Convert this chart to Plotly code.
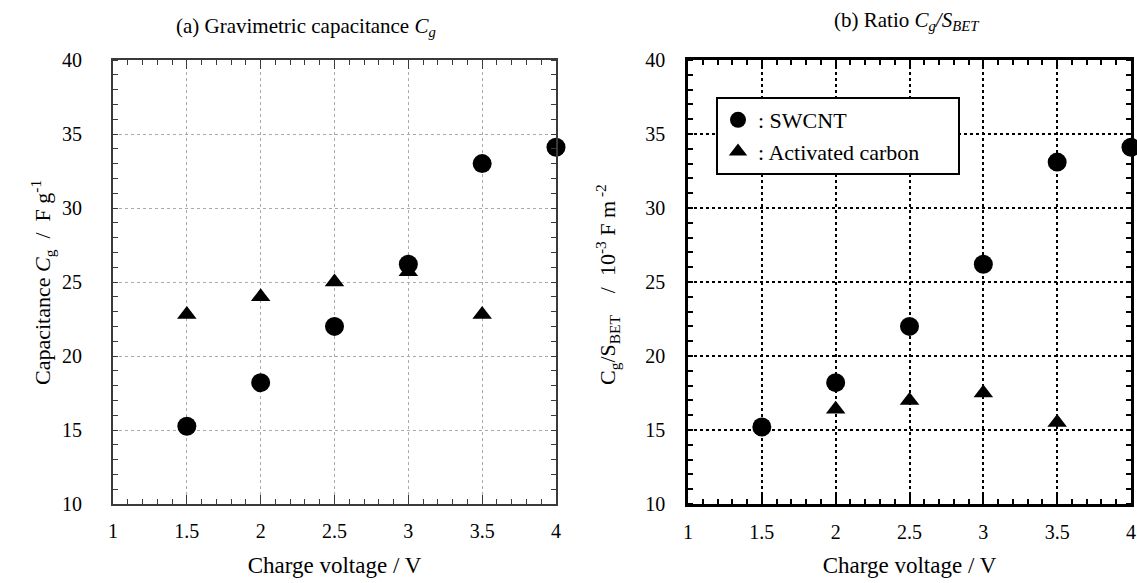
import plotly.graph_objects as go

voltage = [1.5, 2.0, 2.5, 3.0, 3.5, 4.0]
cg_swcnt = [15.25, 18.2, 22.0, 26.2, 33.0, 34.1]
cg_ac_v = [1.5, 2.0, 2.5, 3.0, 3.5]
cg_ac = [22.8, 24.0, 25.0, 25.7, 22.8]

ratio_swcnt = [15.2, 18.2, 22.0, 26.2, 33.1, 34.1]
ratio_ac_v = [2.0, 2.5, 3.0, 3.5]
ratio_ac = [16.4, 17.0, 17.5, 15.5]

FONT = "Liberation Serif, Times New Roman, Tinos, serif"
NB = "\u00a0"
fig = go.Figure()

fig.add_trace(go.Scatter(x=voltage, y=cg_swcnt, mode="markers", xaxis="x", yaxis="y",
                         marker=dict(symbol="circle", size=19, color="black"), showlegend=False, cliponaxis=False))
fig.add_trace(go.Scatter(x=cg_ac_v, y=cg_ac, mode="markers", xaxis="x", yaxis="y",
                         marker=dict(symbol="triangle-up", size=17, color="black"), showlegend=False, cliponaxis=False))
fig.add_trace(go.Scatter(x=voltage, y=ratio_swcnt, mode="markers", xaxis="x2", yaxis="y2", name=": SWCNT",
                         marker=dict(symbol="circle", size=19, color="black"), cliponaxis=False))
fig.add_trace(go.Scatter(x=ratio_ac_v, y=ratio_ac, mode="markers", xaxis="x2", yaxis="y2",
                         name=": Activated carbon" + NB * 6,
                         marker=dict(symbol="triangle-up", size=17, color="black"), cliponaxis=False))

W, H = 1137, 583
ydom = [1 - 504 / H, 1 - 60 / H]
CLEAR = "rgba(0,0,0,0)"


def xax(domain, anchor, linecolor, lw, tw, gridcolor, gw):
    return dict(domain=domain, anchor=anchor, range=[1, 4], dtick=0.5, tick0=1,
                ticks="inside", ticklen=9, tickcolor=linecolor, tickwidth=tw,
                showline=True, linecolor=linecolor, linewidth=lw, mirror="allticks",
                showgrid=True, gridcolor=gridcolor, griddash="dot", gridwidth=gw,
                zeroline=False, tickfont=dict(family=FONT, size=20, color="black"),
                ticklabelstandoff=8,
                minor=dict(dtick=0.1, ticks="inside", ticklen=5, tickcolor=linecolor, tickwidth=tw, showgrid=False),
                title=dict(text="Charge voltage / V", font=dict(family=FONT, size=23, color="black"), standoff=16))


def yax(anchor, linecolor, lw, tw, gridcolor, gw, labgap):
    # labelled axis: transparent outside ticks push the labels away from the frame
    return dict(domain=ydom, anchor=anchor, range=[10, 40], dtick=5,
                ticks="outside", ticklen=labgap, tickcolor=CLEAR, tickwidth=tw,
                showline=True, linecolor=linecolor, linewidth=lw, mirror="allticks",
                showgrid=True, gridcolor=gridcolor, griddash="dot", gridwidth=gw,
                zeroline=False, tickfont=dict(family=FONT, size=20, color="black"),
                minor=dict(dtick=1, ticks="inside", ticklen=5, tickcolor=linecolor, tickwidth=tw, showgrid=False))


def ytick(anchor, overlay, linecolor, lw, tw):
    # overlay axis that only draws the inside major ticks on both sides
    return dict(overlaying=overlay, anchor=anchor, range=[10, 40], dtick=5,
                ticks="inside", ticklen=9, tickcolor=linecolor, tickwidth=tw,
                showline=True, linecolor=linecolor, linewidth=lw, mirror="allticks",
                showticklabels=False, showgrid=False, zeroline=False)


fig.update_layout(
    width=W, height=H, margin=dict(l=0, r=0, t=0, b=0, autoexpand=False),
    paper_bgcolor="white", plot_bgcolor="white",
    font=dict(family=FONT, color="black"),
    xaxis=xax([113 / W, 556 / W], "y", "#3a3a3a", 2, 1, "#aaaaaa", 1),
    yaxis=yax("x", "#3a3a3a", 2, 1, "#aaaaaa", 1, 25),
    yaxis3=ytick("x", "y", "#3a3a3a", 2, 1),
    xaxis2=xax([688 / W, 1131 / W], "y2", "black", 2.5, 2, "black", 1.5),
    yaxis2=yax("x2", "black", 2.5, 2, "black", 1.5, 16),
    yaxis4=ytick("x2", "y2", "black", 2.5, 2),
    legend=dict(x=716 / W, y=1 - 97 / H, xanchor="left", yanchor="top",
                bordercolor="black", borderwidth=2, bgcolor="white",
                font=dict(family=FONT, size=22, color="black"),
                itemwidth=30, tracegroupgap=0),
    annotations=[
        dict(text="(a) Gravimetric capacitance <i>C<sub>g</sub></i>", x=306 / W, y=1 - 27 / H,
             xref="paper", yref="paper", xanchor="center", yanchor="middle", showarrow=False,
             font=dict(family=FONT, size=21, color="black")),
        dict(text="(b) Ratio <i>C<sub>g</sub>/S<sub>BET</sub></i>", x=907 / W, y=1 - 21 / H,
             xref="paper", yref="paper", xanchor="center", yanchor="middle", showarrow=False,
             font=dict(family=FONT, size=21, color="black")),
        dict(text="Capacitance <i>C</i><sub>g</sub>  /  F g<sup>-1</sup>", x=42 / W, y=1 - 283 / H,
             xref="paper", yref="paper", xanchor="center", yanchor="middle", textangle=-90, showarrow=False,
             font=dict(family=FONT, size=22, color="black")),
        dict(text="C<sub>g</sub>/S<sub>BET</sub>" + NB * 4 + "/" + NB * 2 + "10<sup>-3</sup> F m<sup> -2</sup>",
             x=607 / W, y=1 - 285 / H,
             xref="paper", yref="paper", xanchor="center", yanchor="middle", textangle=-90, showarrow=False,
             font=dict(family=FONT, size=22, color="black")),
    ],
)

fig.write_html("out.html")
